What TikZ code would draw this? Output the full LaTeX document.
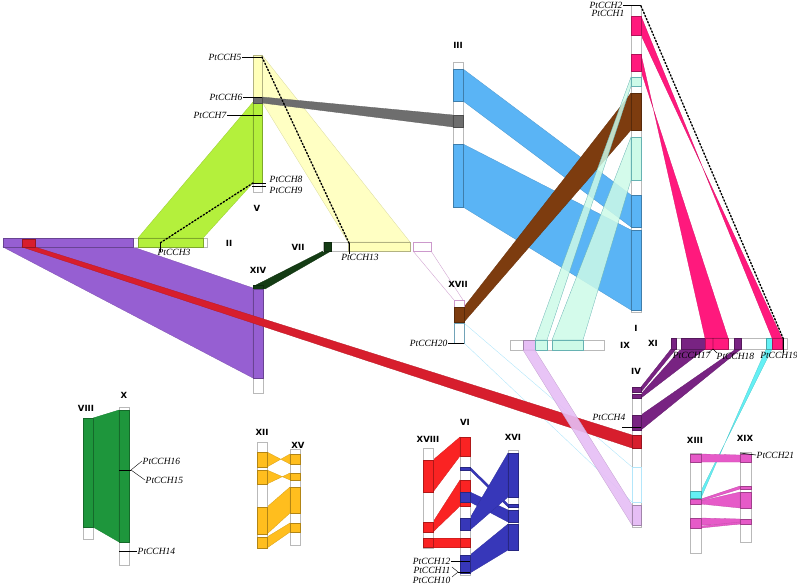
\documentclass[tikz,border=0pt]{standalone}
\usepackage{fontspec}
\setmainfont{Liberation Serif}
\newfontfamily\numfont{DejaVu Sans}
\usepackage{tikz}
\usetikzlibrary{positioning}
\definecolor{ribyellow}{RGB}{255, 255, 185}
\definecolor{riblime}{RGB}{180, 240, 60}
\definecolor{ribgray}{RGB}{110, 110, 110}
\definecolor{ribblue}{RGB}{90, 180, 245}
\definecolor{ribbrown}{RGB}{125, 60, 15}
\definecolor{ribmint}{RGB}{205, 250, 232}
\definecolor{ribpink}{RGB}{255, 25, 125}
\definecolor{ribplum}{RGB}{120, 35, 130}
\definecolor{ribcyan}{RGB}{100, 240, 245}
\definecolor{ribviolet}{RGB}{150, 95, 210}
\definecolor{ribred}{RGB}{215, 30, 45}
\definecolor{riblav}{RGB}{230, 190, 245}
\definecolor{ribdkgreen}{RGB}{20, 60, 20}
\definecolor{ribgreen}{RGB}{30, 150, 60}
\definecolor{riborange}{RGB}{255, 190, 30}
\definecolor{ribscarlet}{RGB}{250, 35, 35}
\definecolor{ribnavy}{RGB}{55, 55, 185}
\definecolor{riborchid}{RGB}{230, 90, 200}
\tikzset{
  chrom/.style={draw=gray!55, fill=white, line width=0.5pt},
  rib/.style={draw=#1!85!black, fill=#1, line width=0.3pt},
  blk/.style={draw=#1!70!black, fill=#1, line width=0.4pt},
  gene/.style={font=\itshape\fontsize{9.5}{9.5}\selectfont, inner sep=0.5pt},
  chrlab/.style={font=\numfont\bfseries\fontsize{8.5}{9}\selectfont, inner sep=0pt},
  tick/.style={draw=black, line width=0.6pt},
  dots/.style={line width=1.4pt, dotted, line cap=round}
}
\begin{document}
\begin{tikzpicture}[x=1pt,y=-1pt]
\useasboundingbox (0,0) rectangle (797,584);
% --- ribbons of the upper block ---
\filldraw[rib=ribviolet] (3,247) -- (133,247) -- (253,288) -- (253,378) -- cycle;
\filldraw[rib=riblime] (253,102) -- (253,183) -- (203,238) -- (138,238) -- cycle;
\filldraw[rib=ribyellow, fill opacity=0.85] (262,55) -- (262,102) -- (348,242) -- (410,242) -- cycle;
\filldraw[rib=ribgray] (262,97) -- (262,103) -- (453,127) -- (453,115) -- cycle;
\filldraw[rib=ribdkgreen] (323,251) -- (331,251) -- (265,289) -- (256,285) -- cycle;
\draw[violet!35, line width=0.4pt] (413,251) -- (454,300) (431,251) -- (463,300);
\filldraw[rib=ribblue] (463,69) -- (463,101) -- (631,227) -- (631,195) -- cycle;
\filldraw[rib=ribblue] (463,144) -- (463,207) -- (631,310) -- (631,230) -- cycle;
\filldraw[rib=ribbrown] (464,307) -- (464,322) -- (631,130) -- (631,93) -- cycle;
\filldraw[draw=teal!60, fill=ribmint, fill opacity=0.85, line width=0.3pt] (535,340) -- (547,340) -- (631,86) -- (631,77) -- cycle;
\filldraw[draw=teal!60, fill=ribmint, fill opacity=0.85, line width=0.3pt] (552,340) -- (583,340) -- (631,180) -- (631,137) -- cycle;
\filldraw[rib=ribpink] (641,16) -- (641,35) -- (782,338) -- (772,338) -- cycle;
\filldraw[rib=ribpink] (641,54) -- (641,71) -- (728,338) -- (705,338) -- cycle;
\filldraw[rib=ribplum] (671,349) -- (676,349) -- (641,392) -- (641,387) -- cycle;
\filldraw[rib=ribplum] (681,349) -- (705,349) -- (641,398) -- (641,394) -- cycle;
\filldraw[rib=ribplum] (736,349) -- (741,349) -- (641,430) -- (641,415) -- cycle;
\draw[cyan!30, line width=0.4pt] (464,323) -- (632,467) (464,343) -- (632,502);
\filldraw[rib=ribcyan] (766,349) -- (772,349) -- (701,491) -- (701,498) -- cycle;
% --- ribbons of the lower blocks ---
\filldraw[rib=riborchid] (701,454) -- (701,462) -- (740,462) -- (740,455) -- cycle;
\filldraw[rib=riborchid] (701,499) -- (701,501) -- (740,489) -- (740,486) -- cycle;
\filldraw[rib=riborchid] (701,501) -- (701,504) -- (740,508) -- (740,492) -- cycle;
\filldraw[rib=riborchid] (701,518) -- (701,525) -- (740,524) -- (740,519) -- cycle;
\filldraw[rib=riborchid] (701,526) -- (701,528) -- (740,524) -- (740,522) -- cycle;
\filldraw[rib=ribgreen] (93,418) -- (93,527) -- (119,542) -- (119,410) -- cycle;
\filldraw[rib=riborange] (267,452) -- (267,467) -- (290,454) -- (290,464) -- cycle;
\filldraw[rib=riborange] (267,470) -- (267,484) -- (290,473) -- (290,480) -- cycle;
\filldraw[rib=riborange] (267,507) -- (267,534) -- (290,513) -- (290,487) -- cycle;
\filldraw[rib=riborange] (267,537) -- (267,548) -- (290,532) -- (290,523) -- cycle;
\filldraw[rib=ribscarlet] (433,460) -- (433,492) -- (460,456) -- (460,437) -- cycle;
\filldraw[rib=ribscarlet] (433,522) -- (433,532) -- (460,506) -- (460,480) -- cycle;
\filldraw[rib=ribscarlet] (433,538) -- (433,547) -- (460,547) -- (460,538) -- cycle;
\filldraw[rib=ribnavy] (470,467) -- (470,470) -- (508,507) -- (508,504) -- cycle;
\filldraw[rib=ribnavy] (470,492) -- (470,502) -- (508,522) -- (508,510) -- cycle;
\filldraw[rib=ribnavy] (470,518) -- (470,530) -- (508,497) -- (508,453) -- cycle;
\filldraw[rib=ribnavy] (470,555) -- (470,573) -- (508,550) -- (508,524) -- cycle;
% --- chromosomes ---
\draw[chrom] (3,238) rectangle (207,247);
\draw[chrom] (253,55) rectangle (262,192);
\draw[chrom] (323,242) rectangle (410,251);
\draw[chrom, draw=violet!40] (413,242) rectangle (431,251);
\draw[chrom] (253,285) rectangle (263,393);
\draw[chrom] (453,62) rectangle (463,207);
\draw[chrom, draw=violet!40] (454,300) rectangle (464,307);
\draw[chrom, draw=cyan!40!gray] (454,323) rectangle (464,343);
\draw[chrom] (631,5) rectangle (641,312);
\draw[chrom] (510,340) rectangle (604,350);
\draw[chrom] (671,338) rectangle (787,349);
\draw[chrom] (632,387) rectangle (641,527);
\draw[chrom] (690,453) rectangle (701,553);
\draw[chrom] (740,452) rectangle (751,542);
\draw[chrom] (83,418) rectangle (93,539);
\draw[chrom] (119,407) rectangle (129,565);
\draw[chrom] (257,442) rectangle (267,548);
\draw[chrom] (290,449) rectangle (300,545);
\draw[chrom] (423,448) rectangle (433,548);
\draw[chrom] (460,437) rectangle (470,575);
\draw[chrom] (508,450) rectangle (518,550);
% --- blocks on chromosomes ---
\filldraw[blk=ribviolet] (3,238) rectangle (133,247);
\filldraw[blk=riblime] (138,238) rectangle (203,247);
\filldraw[blk=ribyellow] (253,55) rectangle (262,97);
\filldraw[blk=riblime] (253,102) rectangle (262,183);
\filldraw[blk=ribgray] (253,97) rectangle (262,103);
\filldraw[blk=ribyellow] (348,242) rectangle (410,251);
\filldraw[blk=ribdkgreen] (324,242) rectangle (331,251);
\filldraw[blk=ribdkgreen] (253,285) rectangle (263,289);
\filldraw[blk=ribviolet] (253,289) rectangle (263,378);
\filldraw[blk=ribblue] (453,69) rectangle (463,101);
\filldraw[blk=ribgray] (453,115) rectangle (463,127);
\filldraw[blk=ribblue] (453,144) rectangle (463,207);
\filldraw[blk=ribbrown] (454,307) rectangle (464,322);
\filldraw[blk=ribpink] (631,16) rectangle (641,35);
\filldraw[blk=ribpink] (631,54) rectangle (641,71);
\filldraw[draw=teal!60, fill=ribmint] (631,77) rectangle (641,86);
\filldraw[blk=ribbrown] (631,93) rectangle (641,130);
\filldraw[draw=teal!60, fill=ribmint] (631,137) rectangle (641,180);
\filldraw[blk=ribblue] (631,195) rectangle (641,227);
\filldraw[blk=ribblue] (631,230) rectangle (641,310);
\filldraw[blk=riblav] (523,340) rectangle (535,350);
\filldraw[draw=teal!60, fill=ribmint] (535,340) rectangle (547,350);
\filldraw[draw=teal!60, fill=ribmint] (552,340) rectangle (583,350);
\filldraw[blk=ribplum] (671,338) rectangle (676,349);
\filldraw[blk=ribplum] (681,338) rectangle (705,349);
\filldraw[blk=ribpink] (705,338) rectangle (728,349);
\filldraw[blk=ribplum] (734,338) rectangle (741,349);
\filldraw[blk=ribcyan] (766,338) rectangle (772,349);
\filldraw[blk=ribpink] (772,338) rectangle (782,349);
\filldraw[blk=ribplum] (632,387) rectangle (641,392);
\filldraw[blk=ribplum] (632,394) rectangle (641,398);
\filldraw[blk=ribplum] (632,415) rectangle (641,430);
\draw[cyan!30, line width=0.4pt] (632,467) rectangle (641,502);
\filldraw[blk=riborchid] (690,454) rectangle (701,462);
\filldraw[blk=ribcyan] (690,491) rectangle (701,498);
\filldraw[blk=riborchid] (690,499) rectangle (701,504);
\filldraw[blk=riborchid] (690,518) rectangle (701,528);
\filldraw[blk=riborchid] (740,454) rectangle (751,462);
\filldraw[blk=riborchid] (740,486) rectangle (751,489);
\filldraw[blk=riborchid] (740,492) rectangle (751,508);
\filldraw[blk=riborchid] (740,519) rectangle (751,524);
\filldraw[blk=ribgreen] (83,418) rectangle (93,527);
\filldraw[blk=ribgreen] (119,410) rectangle (129,542);
\filldraw[blk=riborange] (257,452) rectangle (267,467);
\filldraw[blk=riborange] (257,470) rectangle (267,484);
\filldraw[blk=riborange] (257,507) rectangle (267,534);
\filldraw[blk=riborange] (257,537) rectangle (267,548);
\filldraw[blk=riborange] (290,454) rectangle (300,464);
\filldraw[blk=riborange] (290,473) rectangle (300,480);
\filldraw[blk=riborange] (290,487) rectangle (300,513);
\filldraw[blk=riborange] (290,523) rectangle (300,532);
\filldraw[blk=ribscarlet] (423,460) rectangle (433,492);
\filldraw[blk=ribscarlet] (423,522) rectangle (433,532);
\filldraw[blk=ribscarlet] (423,538) rectangle (433,547);
\filldraw[blk=ribscarlet] (460,437) rectangle (470,456);
\filldraw[blk=ribscarlet] (460,480) rectangle (470,506);
\filldraw[blk=ribscarlet] (460,538) rectangle (470,547);
\filldraw[blk=ribnavy] (460,467) rectangle (470,470);
\filldraw[blk=ribnavy] (460,492) rectangle (470,502);
\filldraw[blk=ribnavy] (460,518) rectangle (470,530);
\filldraw[blk=ribnavy] (460,555) rectangle (470,573);
\filldraw[blk=ribnavy] (508,453) rectangle (518,497);
\filldraw[blk=ribnavy] (508,504) rectangle (518,507);
\filldraw[blk=ribnavy] (508,510) rectangle (518,522);
\filldraw[blk=ribnavy] (508,524) rectangle (518,550);
% --- long red ribbon runs over XIV ---
\filldraw[rib=ribred] (22,247) -- (35,247) -- (632,435) -- (632,448) -- cycle;
\filldraw[blk=ribred] (22,239) rectangle (35,247);
\filldraw[blk=ribred] (632,435) rectangle (641,448);
\filldraw[rib=riblav, fill opacity=0.9] (523,350) -- (535,350) -- (632,505) -- (632,525) -- cycle;
\filldraw[blk=riblav] (632,505) rectangle (641,525);
% --- dotted gene pairs ---
\coordinate (p5) at (262,57);
\coordinate (p13) at (349,243);
\coordinate (p8) at (253,183);
\coordinate (p3) at (160,243);
\coordinate (p2) at (641,6);
\coordinate (p19) at (783,338);
\draw[dots] (p5) -- (p13);
\draw[dots] (p8) -- (p3);
\draw[dots] (p2) -- (p19);
% --- chromosome names ---
\node[chrlab] (nI) at (636,328) {I};
\node[chrlab] (nII) at (229,243) {II};
\node[chrlab] (nIII) at (458,45) {III};
\node[chrlab] (nIV) at (636,371) {IV};
\node[chrlab] (nV) at (257,208) {V};
\node[chrlab] (nVI) at (465,422) {VI};
\node[chrlab] (nVII) at (298,247) {VII};
\node[chrlab] (nVIII) at (86,408) {VIII};
\node[chrlab] (nIX) at (625,345) {IX};
\node[chrlab] (nX) at (124,395) {X};
\node[chrlab] (nXI) at (653,343) {XI};
\node[chrlab] (nXII) at (262,432) {XII};
\node[chrlab] (nXIII) at (695,440) {XIII};
\node[chrlab] (nXIV) at (258,270) {XIV};
\node[chrlab] (nXV) at (298,445) {XV};
\node[chrlab] (nXVI) at (513,437) {XVI};
\node[chrlab] (nXVII) at (458,284) {XVII};
\node[chrlab] (nXVIII) at (428,439) {XVIII};
\node[chrlab] (nXIX) at (745,438) {XIX};
% --- gene labels ---
\node[gene, anchor=east] (g1) at (625,13) {PtCCH1};
\node[gene, anchor=east] (g2) at (623,5) {PtCCH2};
\draw[tick] (g2.east) -- (641,5);
\node[gene, anchor=north] (g3) at (174,249) {PtCCH3};
\draw[tick] (p3) -- (160,252);
\node[gene, anchor=east] (g4) at (626,417) {PtCCH4};
\draw[tick] (622,427) -- (641,427);
\node[gene, anchor=east] (g5) at (242,57) {PtCCH5};
\draw[tick] (g5.east) -- (p5);
\node[gene, anchor=east] (g6) at (243,97) {PtCCH6};
\draw[tick] (g6.east) -- (262,97);
\node[gene, anchor=east] (g7) at (227,115) {PtCCH7};
\draw[tick] (g7.east) -- (262,115);
\node[gene, anchor=west] (g8) at (269,179) {PtCCH8};
\node[gene, anchor=west] (g9) at (269,190) {PtCCH9};
\draw[tick] (252,183) -- (266,183) (252,186) -- (266,186);
\node[gene, anchor=east] (g10) at (451,580) {PtCCH10};
\node[gene, anchor=east] (g11) at (451,570) {PtCCH11};
\node[gene, anchor=east] (g12) at (451,561) {PtCCH12};
\draw[tick] (g12.east) -- (470,561);
\draw[line width=0.4pt] (452,567) -- (458,572) -- (452,577);
\draw[tick] (458,572) -- (470,572);
\node[gene, anchor=north] (g13) at (360,254) {PtCCH13};
\draw[tick] (p13) -- (349,254);
\node[gene, anchor=west] (g14) at (137,551) {PtCCH14};
\draw[tick] (119,551) -- (g14.west);
\node[gene, anchor=west] (g16) at (142,461) {PtCCH16};
\node[gene, anchor=west] (g15) at (145,480) {PtCCH15};
\draw[tick] (119,470) -- (131,470);
\draw[line width=0.4pt] (g16.west) -- (131,470) -- (g15.west);
\node[gene, anchor=north east] (g17) at (711,352) {PtCCH17};
\node[gene, anchor=north west] (g18) at (716,352) {PtCCH18};
\draw[line width=0.4pt] (713,338) -- (713,349) (708,353) -- (713,349) -- (717,353);
\node[gene, anchor=north] (g19) at (779,352) {PtCCH19};
\draw[line width=0.5pt] (p19) -- (783,353);
\node[gene, anchor=east] (g20) at (448,343) {PtCCH20};
\draw[tick] (g20.east) -- (464,343);
\node[gene, anchor=west] (g21) at (756,455) {PtCCH21};
\draw[tick] (740,453) -- (g21.west);
\end{tikzpicture}
\end{document}
